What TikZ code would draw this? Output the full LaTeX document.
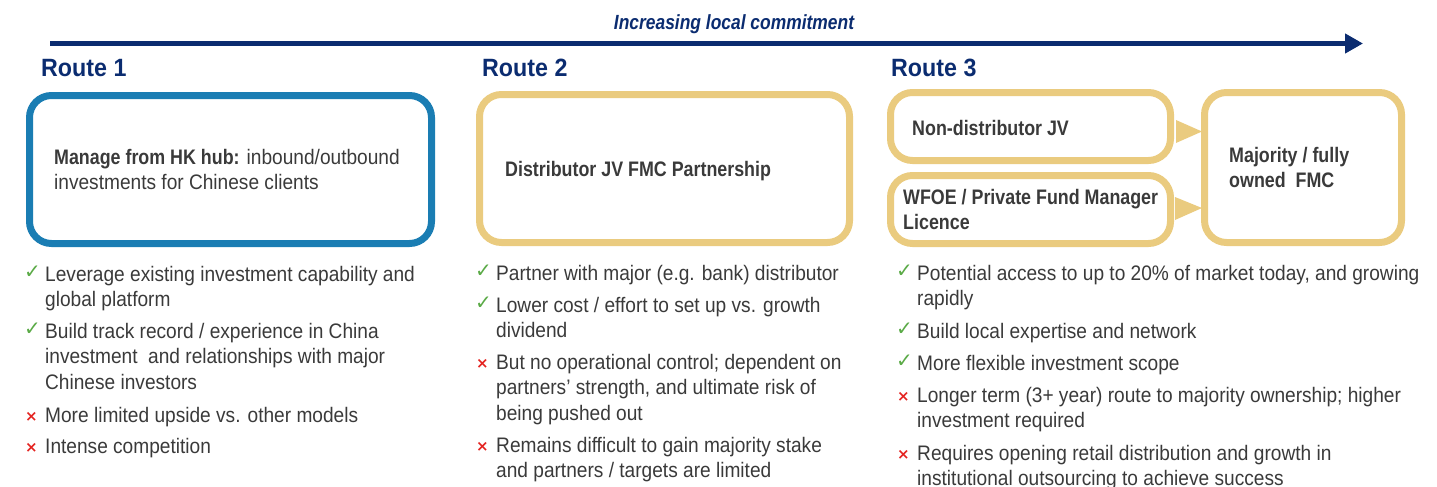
\documentclass[tikz,border=0pt]{standalone}
\usepackage{fontspec}
\setmainfont{Liberation Sans}[FakeStretch=0.91,
  BoldFeatures={FakeStretch=0.85},
  BoldItalicFeatures={FakeStretch=0.85}]
\newfontfamily\headfont{Liberation Sans}[FakeStretch=0.93]
\newfontfamily\symfont{DejaVu Sans}
\usetikzlibrary{calc,arrows.meta}

\definecolor{navy}{HTML}{0B2C70}
\definecolor{routeblue}{HTML}{1A7DB3}
\definecolor{gold}{HTML}{EACB7F}
\definecolor{txt}{HTML}{3A3A3A}
\definecolor{okgreen}{HTML}{5AAA46}
\definecolor{nored}{HTML}{E42320}

\newcommand\bodyfont{\fontsize{21}{25.8}\selectfont}
% stacked lines whose baseline is that of the first line
\newcommand\txtlines[1]{\begin{tabular}[t]{@{}l@{}}#1\end{tabular}}

\tikzset{
  routebox/.style={draw, rounded corners=22pt, line width=7pt, inner sep=0pt},
  bluebox/.style={routebox, draw=routeblue},
  goldbox/.style={routebox, draw=gold},
  boxtext/.style={font=\bodyfont, text=txt, anchor=base west, inner sep=0pt},
  item/.style={font=\bodyfont, text=txt, anchor=base west, inner sep=0pt},
  okmark/.style={font=\symfont\fontsize{20}{20}\selectfont, text=okgreen, anchor=base west, inner sep=0pt},
  nomark/.style={font=\symfont\bfseries\fontsize{15}{15}\selectfont, text=nored, anchor=base west, inner sep=0pt},
  routelabel/.style={font=\headfont\bfseries\fontsize{25}{25}\selectfont, text=navy, anchor=base west, inner sep=0pt},
}

\begin{document}
\begin{tikzpicture}[x=1pt, y=-1pt]
\useasboundingbox (0,0) rectangle (1437,487);

% commitment arrow and its caption
\coordinate (aS) at (50,43.5);
\coordinate (aE) at (1363,43.5);
\draw[navy, line width=4.3pt, -{Triangle[length=18pt,width=19pt]}] (aS) -- (aE);
\node[font=\bfseries\itshape\fontsize{20.5}{20.5}\selectfont, text=navy, anchor=base, inner sep=0pt]
  (title) at (734,30) {Increasing local commitment};

% route headings
\node[routelabel] (r1) at (41,77) {Route 1};
\node[routelabel] (r2) at (482,77) {Route 2};
\node[routelabel] (r3) at (891,77) {Route 3};

% route boxes
\node[bluebox, minimum width=402pt, minimum height=148pt] (b1) at (230.5,169.5) {};
\node[goldbox, minimum width=370pt, minimum height=148pt] (b2) at (664.5,168.5) {};
\node[goldbox, minimum width=280pt, minimum height=68pt] (b3a) at (1030.5,126.5) {};
\node[goldbox, minimum width=280pt, minimum height=68pt] (b3b) at (1030.5,209.5) {};
\node[goldbox, minimum width=197pt, minimum height=150pt] (b3c) at (1303,167.5) {};

% box texts
\node[boxtext] (t1) at (54,164) {\txtlines{\textbf{Manage from HK hub:} inbound/outbound\\investments for Chinese clients}};
\node[boxtext] (t2) at (505,176) {\textbf{Distributor JV FMC Partnership}};
\node[boxtext] (t3a) at (912,135) {\textbf{Non-distributor JV}};
\node[boxtext] (t3b) at (903,204) {\txtlines{\textbf{WFOE / Private Fund Manager}\\\textbf{Licence}}};
\node[boxtext] (t3c) at (1229,162) {\txtlines{\textbf{Majority / fully}\\\textbf{owned\ \ FMC}}};

% progression wedges into the majority-owned box
\fill[gold] ($(b3a.east)+(2,-6.5)$) -- ($(b3a.east)+(2,16.5)$) -- ($(b3a.east)+(28,5)$) -- cycle;
\fill[gold] ($(b3b.east)+(1,-12.5)$) -- ($(b3b.east)+(1,10.5)$) -- ($(b3b.east)+(28,-1.5)$) -- cycle;

% Route 1 pros and cons
\node[okmark] (m11) at (24,278) {✓};
\node[item] (i11) at (45,281) {\txtlines{Leverage existing investment capability and\\global platform}};
\node[okmark] (m12) at (24,335) {✓};
\node[item] (i12) at (45,338) {\txtlines{Build track record / experience in China\\investment\ \ and relationships with major\\Chinese investors}};
\node[nomark] (m13) at (25,421) {×};
\node[item] (i13) at (45,422) {More limited upside vs. other models};
\node[nomark] (m14) at (25,452) {×};
\node[item] (i14) at (45,453) {Intense competition};

% Route 2 pros and cons
\node[okmark] (m21) at (475,277) {✓};
\node[item] (i21) at (496,280) {Partner with major (e.g. bank) distributor};
\node[okmark] (m22) at (475,309) {✓};
\node[item] (i22) at (496,312) {\txtlines{Lower cost / effort to set up vs. growth\\dividend}};
\node[nomark] (m23) at (476,368) {×};
\node[item] (i23) at (496,369) {\txtlines{But no operational control; dependent on\\partners’ strength, and ultimate risk of\\being pushed out}};
\node[nomark] (m24) at (476,451) {×};
\node[item] (i24) at (496,452) {\txtlines{Remains difficult to gain majority stake\\and partners / targets are limited}};

% Route 3 pros and cons
\node[okmark] (m31) at (896,277) {✓};
\node[item] (i31) at (917,280) {\txtlines{Potential access to up to 20\% of market today, and growing\\rapidly}};
\node[okmark] (m32) at (896,335) {✓};
\node[item] (i32) at (917,338) {Build local expertise and network};
\node[okmark] (m33) at (896,367) {✓};
\node[item] (i33) at (917,370) {More flexible investment scope};
\node[nomark] (m34) at (897,401) {×};
\node[item] (i34) at (917,402) {\txtlines{Longer term (3+ year) route to majority ownership; higher\\investment required}};
\node[nomark] (m35) at (897,459) {×};
\node[item] (i35) at (917,460) {\txtlines{Requires opening retail distribution and growth in\\institutional outsourcing to achieve success}};
\end{tikzpicture}
\end{document}
